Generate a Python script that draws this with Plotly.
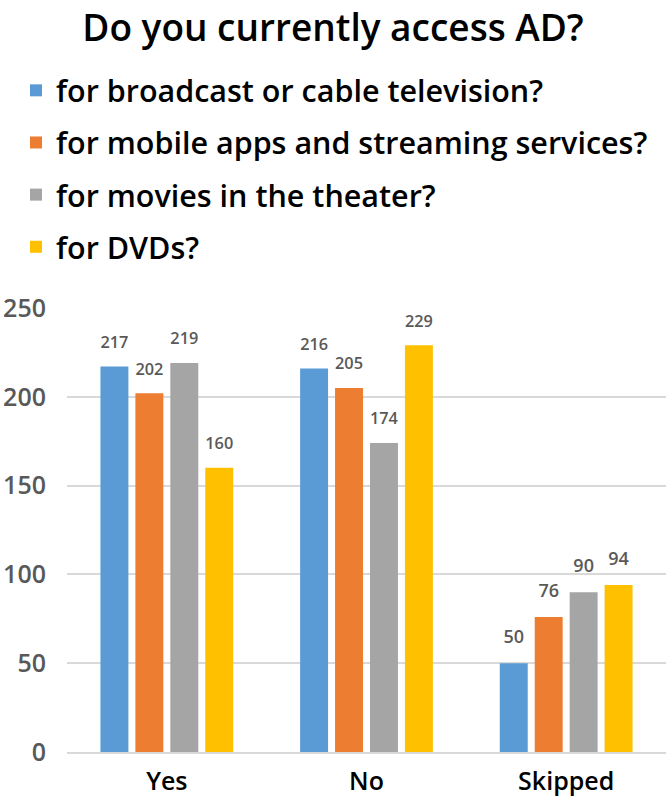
import plotly.graph_objects as go

categories = ["Yes", "No", "Skipped"]
series_names = [
    "for broadcast or cable television?",
    "for mobile apps and streaming services?",
    "for movies in the theater?",
    "for DVDs?",
]
broadcast = [217, 216, 50]
mobile = [202, 205, 76]
theater = [219, 174, 90]
dvds = [160, 229, 94]
y_ticks = [0, 50, 100, 150, 200, 250]

colors = ["#5B9BD5", "#ED7D31", "#A5A5A5", "#FFC000"]
FONT = "Open Sans"

fig = go.Figure()
for i, (name, vals) in enumerate(zip(series_names, [broadcast, mobile, theater, dvds])):
    fig.add_trace(go.Bar(
        x=categories, y=vals, name=name, legendgroup=f"g{i}",
        marker=dict(color=colors[i], line=dict(width=0)),
        texttemplate="<span style='font-size:18px'>%{y}</span><br> ",
        textposition="outside",
        textfont=dict(family=FONT, size=11, color="#595959", weight=600),
        cliponaxis=False,
    ))

fig.update_layout(
    width=666, height=797,
    paper_bgcolor="white", plot_bgcolor="white",
    margin=dict(l=67, r=0, t=308, b=45, autoexpand=False),
    barmode="group", bargap=0.3, bargroupgap=0.2,
    font=dict(family=FONT, color="#000000"),
    title=dict(text="Do you currently access AD?", x=0.5, xanchor="center",
               y=1 - 28 / 797, yanchor="middle", yref="container",
               font=dict(family=FONT, size=37, color="#000000", weight=600)),
    legend=dict(orientation="v", x=-51 / 599, xanchor="left", y=1 + 244 / 444, yanchor="top",
                font=dict(family=FONT, size=30.5, color="#000000", weight=600),
                tracegroupgap=9.5, bgcolor="rgba(0,0,0,0)", traceorder="grouped"),
    showlegend=True,
)
fig.update_yaxes(range=[0, 250], tickvals=y_ticks, showgrid=True, gridcolor="#D9D9D9", gridwidth=2,
                 zeroline=False, showline=False, ticks="",
                 tickfont=dict(family=FONT, size=25, color="#595959", weight=600),
                 ticklabelstandoff=20)
fig.update_xaxes(showline=True, linecolor="#D9D9D9", linewidth=2, ticks="",
                 tickfont=dict(family=FONT, size=25, color="#000000", weight=600),
                 ticklabelstandoff=6)

fig.write_html("out.html", config={"displayModeBar": False},
               post_script="document.body.style.margin='0';")
